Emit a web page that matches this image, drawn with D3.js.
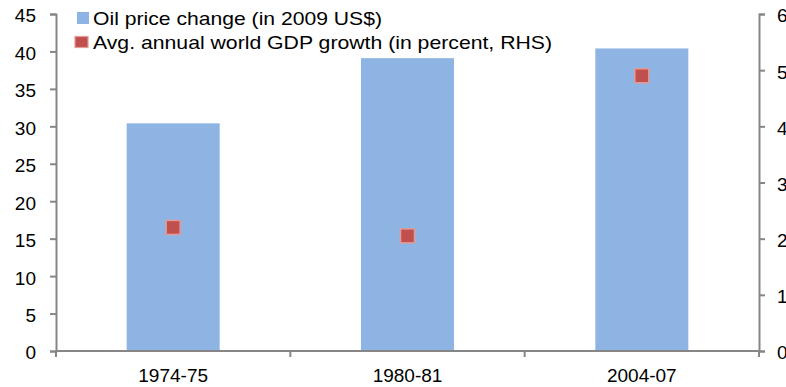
<!DOCTYPE html>
<html>
<head>
<meta charset="utf-8">
<script src="https://cdn.jsdelivr.net/npm/d3@7"></script>
<style>
  html, body { margin: 0; padding: 0; background: #fff; }
  svg { display: block; }
  text { font-family: "Liberation Sans", Arial, sans-serif; fill: #000; }
</style>
</head>
<body>
<svg id="chart" width="786" height="387"></svg>
<script>
// Periods of oil price shocks
const periods = ["1974-75", "1980-81", "2004-07"];
// Oil price change (in 2009 US$), left axis
const oilChange = [30.4, 39.1, 40.4];
// Average annual world GDP growth (percent), right axis
const gdpGrowth = [2.2, 2.05, 4.9];
const leftTicks = [0, 5, 10, 15, 20, 25, 30, 35, 40, 45];
const rightTicks = [0, 1, 2, 3, 4, 5, 6];
const legendLabels = ["Oil price change (in 2009 US$)", "Avg. annual world GDP growth (in percent, RHS)"];
const legendWidths = [289, 459];

const svg = d3.select("#chart");
const plotLeft = 56, plotRight = 759, plotTop = 14, plotBottom = 351;
const axisColor = "#868686";
const barColor = "#8EB4E3";
const markColor = "#C0504D";
const markEdge = "#E39A98";
const fontSize = 19;

const xOuter = d3.scaleBand().domain(periods).range([plotLeft, plotRight]).padding(0);
const yL = d3.scaleLinear().domain([0, 45]).range([plotBottom, plotTop]);
const yR = d3.scaleLinear().domain([0, 6]).range([plotBottom, plotTop]);
const barWidth = 93;

// Bars
svg.append("g").selectAll("rect").data(periods).join("rect")
  .attr("x", d => xOuter(d) + xOuter.bandwidth() / 2 - barWidth / 2)
  .attr("width", barWidth)
  .attr("y", (d, i) => yL(oilChange[i]))
  .attr("height", (d, i) => plotBottom - yL(oilChange[i]))
  .attr("fill", barColor);

// Left axis
const gL = svg.append("g").attr("transform", `translate(${plotLeft},0)`)
  .call(d3.axisLeft(yL).tickValues(leftTicks).tickSize(6).tickPadding(14).tickFormat(d3.format("d")));
// Right axis
const gR = svg.append("g").attr("transform", `translate(${plotRight},0)`)
  .call(d3.axisRight(yR).tickValues(rightTicks).tickSize(6).tickPadding(12).tickFormat(d3.format("d")));
// Bottom axis with ticks between categories
const gB = svg.append("g").attr("transform", `translate(0,${plotBottom})`);
gB.append("line").attr("x1", plotLeft).attr("x2", plotRight).attr("stroke", axisColor).attr("stroke-width", 2);
gB.selectAll("line.tk").data(d3.range(periods.length + 1)).join("line").attr("class", "tk")
  .attr("x1", i => plotLeft + i * xOuter.step()).attr("x2", i => plotLeft + i * xOuter.step())
  .attr("y1", 0).attr("y2", 6).attr("stroke", axisColor).attr("stroke-width", 2);
gB.selectAll("text").data(periods).join("text")
  .attr("x", d => xOuter(d) + xOuter.bandwidth() / 2)
  .attr("y", 31)
  .attr("text-anchor", "middle")
  .attr("font-size", fontSize)
  .text(d => d);

[gL, gR].forEach(g => {
  g.select(".domain").attr("stroke", axisColor).attr("stroke-width", 2);
  g.selectAll(".tick line").attr("stroke", axisColor).attr("stroke-width", 2);
  g.selectAll(".tick text").attr("font-size", fontSize).attr("dy", "0.42em")
    .attr("font-family", "Liberation Sans, Arial, sans-serif").attr("fill", "#000");
});

// GDP growth markers
svg.append("g").selectAll("rect").data(periods).join("rect")
  .attr("x", d => xOuter(d) + xOuter.bandwidth() / 2 - 7)
  .attr("y", (d, i) => yR(gdpGrowth[i]) - 7)
  .attr("width", 14).attr("height", 14)
  .attr("fill", markColor)
  .attr("stroke", markEdge).attr("stroke-width", 1.5);

// Legend
const leg = svg.append("g");
leg.append("rect").attr("x", 77).attr("y", 12).attr("width", 12).attr("height", 12).attr("fill", barColor);
leg.append("rect").attr("x", 75).attr("y", 36.5).attr("width", 13).attr("height", 11)
  .attr("fill", markColor).attr("stroke", markEdge).attr("stroke-width", 1.2);
leg.selectAll("text").data(legendLabels).join("text")
  .attr("x", 93).attr("y", (d, i) => 25 + i * 24)
  .attr("font-size", fontSize)
  .attr("textLength", (d, i) => legendWidths[i])
  .attr("lengthAdjust", "spacingAndGlyphs")
  .text(d => d);
</script>
</body>
</html>
